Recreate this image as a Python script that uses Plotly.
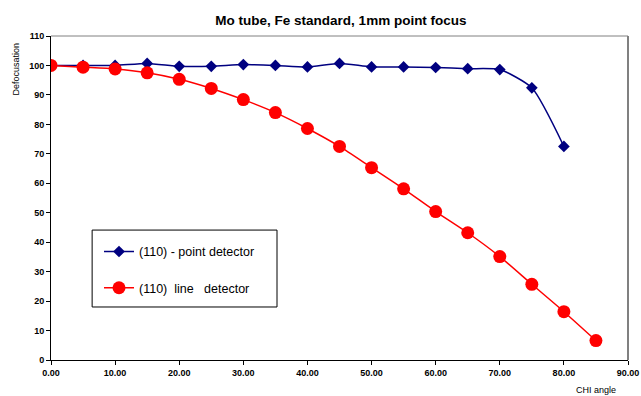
import plotly.graph_objects as go

# CHI angle (degrees) and relative intensity for the two detector setups
chi_point = [0, 5, 10, 15, 20, 25, 30, 35, 40, 45, 50, 55, 60, 65, 70, 75, 80]
defoc_point = [100, 100, 100, 100.7, 99.7, 99.7, 100.3, 100, 99.5, 100.7,
               99.5, 99.5, 99.3, 98.9, 98.6, 92.4, 72.5]

chi_line = [0, 5, 10, 15, 20, 25, 30, 35, 40, 45, 50, 55, 60, 65, 70, 75, 80, 85]
defoc_line = [100, 99.4, 98.8, 97.5, 95.3, 92.2, 88.4, 84.0, 78.6, 72.5,
              65.3, 58.1, 50.4, 43.2, 35.1, 25.7, 16.4, 6.6]

x_ticks = [0, 10, 20, 30, 40, 50, 60, 70, 80, 90]
y_ticks = [0, 10, 20, 30, 40, 50, 60, 70, 80, 90, 100, 110]

FONT = "Liberation Sans, Arial, sans-serif"

fig = go.Figure()

fig.add_trace(go.Scatter(
    x=chi_point, y=defoc_point, mode="lines+markers",
    name="(110) - point detector",
    line=dict(color="#000080", width=1.5, shape="spline", smoothing=0.6),
    marker=dict(symbol="diamond", size=9, color="#000080"),
    legendgroup="a",
))
fig.add_trace(go.Scatter(
    x=chi_line, y=defoc_line, mode="lines+markers",
    name="(110)\u00a0 line\u00a0\u00a0 detector",
    line=dict(color="#ff0000", width=1.5, shape="spline", smoothing=0.6),
    marker=dict(symbol="circle", size=13, color="#ff0000"),
    legendgroup="b",
))

fig.update_layout(
    width=641, height=396,
    margin=dict(l=51, r=13, t=36, b=36),
    paper_bgcolor="white", plot_bgcolor="white",
    font=dict(family=FONT, color="black"),
    title=dict(
        text="Mo tube, Fe standard, 1mm point focus",
        x=0.532, xanchor="center", y=0.949, yanchor="middle",
        font=dict(size=13.5, weight="bold", family=FONT),
    ),
    showlegend=True,
    legend=dict(
        x=0.0832, y=0.38, xanchor="left", yanchor="top",
        borderwidth=0, bgcolor="rgba(0,0,0,0)",
        font=dict(size=12.5, family=FONT),
        traceorder="grouped", tracegroupgap=17,
        itemwidth=30,
    ),
    xaxis=dict(
        range=[0, 90], tickvals=x_ticks,
        ticktext=[f"{v:.2f}" for v in x_ticks],
        showgrid=False, zeroline=False,
        showline=True, linecolor="black", linewidth=1, mirror=False,
        ticks="outside", ticklen=4, tickcolor="black",
        ticklabeloverflow="allow", automargin=False,
        tickfont=dict(size=9, weight="bold", family=FONT),
    ),
    yaxis=dict(
        range=[0, 110], tickvals=y_ticks,
        showgrid=False, zeroline=False,
        showline=True, linecolor="black", linewidth=1,
        ticks="outside", ticklen=4, tickcolor="black",
        automargin=False,
        tickfont=dict(size=9, weight="bold", family=FONT),
    ),
    shapes=[
        # frame around the plot area (top and right edges)
        dict(type="line", xref="paper", yref="paper", x0=0, x1=1, y0=1, y1=1,
             line=dict(color="#808080", width=1)),
        dict(type="line", xref="paper", yref="paper", x0=1, x1=1, y0=0, y1=1,
             line=dict(color="#808080", width=2)),
        # legend box
        dict(type="rect", xref="paper", yref="paper",
             x0=0.0713, x1=0.3917, y0=0.1636, y1=0.401,
             line=dict(color="black", width=1), fillcolor="white",
             layer="above"),
    ],
    annotations=[
        dict(text="Defocusation", xref="paper", yref="paper",
             x=-0.06, y=0.898, textangle=-90, showarrow=False,
             xanchor="center", yanchor="middle",
             font=dict(size=9, family=FONT)),
        dict(text="CHI angle", xref="paper", yref="paper",
             x=0.945, y=-0.092, showarrow=False,
             xanchor="center", yanchor="middle",
             font=dict(size=9, family=FONT)),
    ],
)

fig.write_html("out.html")
